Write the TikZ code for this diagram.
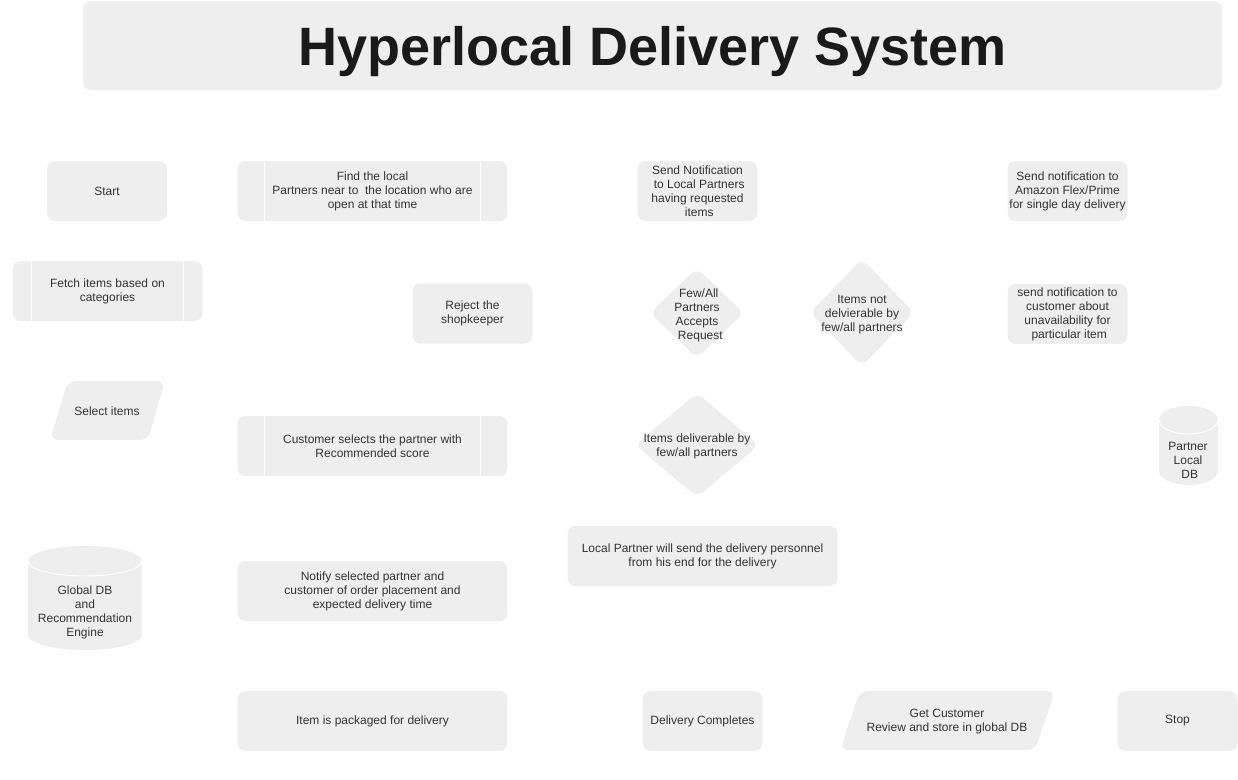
\documentclass[tikz,border=0pt]{standalone}
\usepackage{fontspec}
\setmainfont{Liberation Sans}
\usetikzlibrary{calc}
\definecolor{boxfill}{HTML}{EEEEEE}
\definecolor{txt}{HTML}{333333}
\definecolor{ttl}{HTML}{1A1A1A}
\tikzset{
  lbl/.style={font=\fontsize{12}{14}\selectfont, text=txt, align=center, inner sep=0pt},
  rbox/.style={lbl, fill=boxfill, rounded corners=8pt, minimum height=60pt, minimum width=120pt},
  wbox/.style={rbox, minimum width=270pt},
  subproc/.style={rbox, path picture={
      \draw[white, line width=1pt] ([xshift=#1]path picture bounding box.north west) -- ([xshift=#1]path picture bounding box.south west);
      \draw[white, line width=1pt] ([xshift=-#1]path picture bounding box.north east) -- ([xshift=-#1]path picture bounding box.south east);}},
  shp/.style={fill=boxfill, rounded corners=8pt},
}
\begin{document}
\begin{tikzpicture}[x=1pt,y=-1pt]
\useasboundingbox (0,0) rectangle (1238,779);
% title
\node[fill=boxfill, rounded corners=8pt, minimum width=1139pt, minimum height=89pt, inner sep=0pt] (title) at (652.5,45.5) {};
\node[anchor=base, inner sep=0pt, font=\fontsize{54}{60}\selectfont\bfseries, text=ttl] (titletext) at (652.5,65.5) {Hyperlocal Delivery System};

% column 1
\node[rbox] (start) at (107,191) {Start};
\node[subproc=19pt, minimum width=190pt] (fetch) at (107.5,291) {Fetch items based on\\categories};
\path[shp] (68,381) -- (165,381) -- (148,440) -- (50,440) -- cycle;
\node[lbl] (select) at (107,411.5) {Select items};
% global db
\fill[boxfill] (28,561) rectangle (142,635);
\fill[boxfill] (85,635) ellipse [x radius=57, y radius=15];
\fill[boxfill] (85,561) ellipse [x radius=57, y radius=15];
\begin{scope}
\clip (20,561) rectangle (150,585);
\draw[white, line width=1pt] (85,561) ellipse [x radius=57, y radius=15];
\end{scope}
\node[lbl] (globaldb) at (85,612) {Global DB\\and\\Recommendation\\Engine};

% column 2
\node[subproc=27pt, minimum width=270pt] (find) at (372.5,191) {Find the local\\Partners near to\ \ the location who are\\open at that time};
\node[rbox] (reject) at (472.5,313.5) {Reject the\\shopkeeper};
\node[subproc=27pt, minimum width=270pt] (custsel) at (372.5,446) {Customer selects the partner with\\Recommended score};
\node[wbox] (notify) at (372.5,591) {Notify selected partner and\\customer of order placement and\\expected delivery time};
\node[wbox] (packaged) at (372.5,721) {Item is packaged for delivery};

% column 3
\node[rbox] (sendnotif) at (697.5,191) {Send Notification\\\ to Local Partners\\having requested\\\ items};
\path[shp] (697,268) -- (744,313) -- (697,358) -- (650,313) -- cycle;
\node[lbl] (fewall) at (697,315) {\ Few/All\\Partners\\Accepts\\\ \ Request};
\path[shp] (862,259) -- (914,312.5) -- (862,366) -- (810,312.5) -- cycle;
\node[lbl] (notdel) at (862,315) {Items not\\delvierable by\\few/all partners};
\path[shp] (697,393) -- (759,445) -- (697,497) -- (635,445) -- cycle;
\node[lbl] (deliv) at (697,446.5) {Items deliverable by\\few/all partners};
\node[wbox] (localp) at (702.5,556) {Local Partner will send the delivery personnel\\from his end for the delivery};
\node[rbox] (complete) at (702.5,721) {Delivery Completes};

% column 4
\path[shp] (860,691) -- (1055,691) -- (1035,750) -- (840,750) -- cycle;
\node[lbl] (review) at (947,721.5) {Get Customer\\Review and store in global DB};
\node[rbox] (stop) at (1177.5,721) {Stop};
\node[rbox] (amazon) at (1067.5,191) {Send notification to\\Amazon Flex/Prime\\for single day delivery};
\node[rbox] (unavail) at (1067.5,314) {send notification to\\customer about\\unavailability for\\\ particular item};
% partner local db
\fill[boxfill] (1159,420) rectangle (1218,471);
\fill[boxfill] (1188.5,471) ellipse [x radius=29.5, y radius=14];
\fill[boxfill] (1188.5,420) ellipse [x radius=29.5, y radius=14];
\begin{scope}
\clip (1150,420) rectangle (1230,440);
\draw[white, line width=1pt] (1188.5,420) ellipse [x radius=29.5, y radius=14];
\end{scope}
\node[lbl] (partnerdb) at (1188,460) {Partner\\Local\\\ DB};
\end{tikzpicture}
\end{document}
